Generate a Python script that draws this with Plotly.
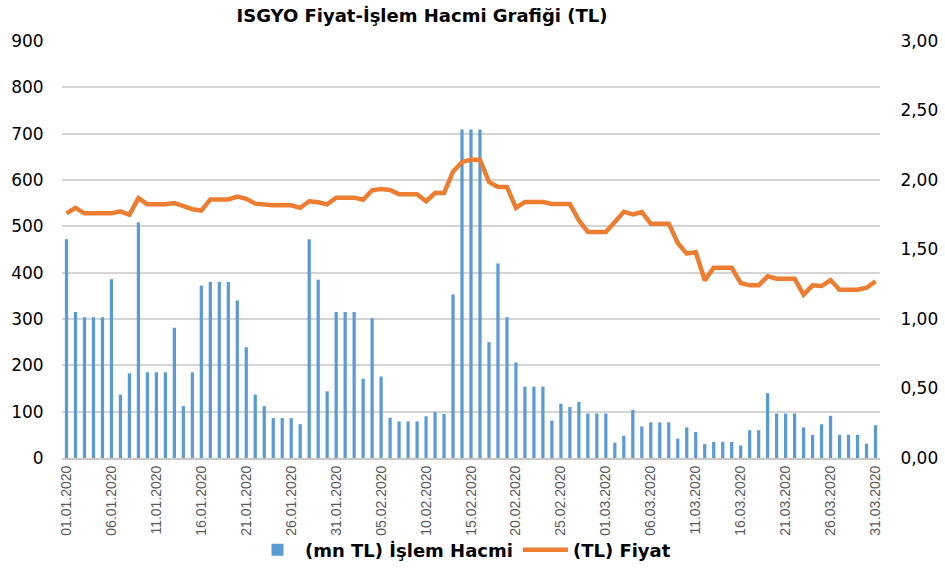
import pandas as pd
import plotly.graph_objects as go

dates = [d.strftime("%d.%m.%Y") for d in pd.date_range("2020-01-01", "2020-03-31", freq="D")]

volume = [472, 315, 304, 304, 304, 386, 137, 183, 509, 185,
          185, 185, 281, 112, 185, 372, 380, 380, 380, 340,
          239, 137, 112, 86, 86, 86, 73, 472, 385, 144,
          315, 315, 315, 171, 302, 176, 87, 79, 79, 79,
          90, 99, 95, 353, 709, 709, 709, 250, 420, 304,
          206, 154, 154, 154, 81, 117, 110, 121, 96, 96,
          96, 33, 48, 104, 68, 77, 77, 77, 42, 66,
          56, 30, 35, 35, 35, 27, 60, 60, 140, 96,
          96, 96, 66, 50, 73, 91, 50, 50, 50, 31,
          71]

price = [1.76, 1.80, 1.76, 1.76, 1.76, 1.76, 1.775, 1.75, 1.87, 1.825,
         1.825, 1.825, 1.835, 1.81, 1.79, 1.78, 1.86, 1.86, 1.86, 1.88,
         1.865, 1.83, 1.822, 1.818, 1.818, 1.818, 1.80, 1.847, 1.84, 1.825,
         1.873, 1.873, 1.873, 1.858, 1.926, 1.935, 1.928, 1.897, 1.897, 1.897,
         1.847, 1.906, 1.906, 2.06, 2.13, 2.146, 2.146, 1.986, 1.95, 1.95,
         1.80, 1.842, 1.842, 1.842, 1.827, 1.827, 1.827, 1.71, 1.626, 1.626,
         1.626, 1.698, 1.772, 1.753, 1.77, 1.686, 1.686, 1.686, 1.547, 1.47,
         1.482, 1.278, 1.369, 1.369, 1.369, 1.259, 1.242, 1.242, 1.307, 1.29,
         1.29, 1.29, 1.175, 1.242, 1.237, 1.28, 1.211, 1.211, 1.211, 1.225,
         1.27]

left_ticks = [0, 100, 200, 300, 400, 500, 600, 700, 800, 900]
right_ticks = [0, 0.5, 1.0, 1.5, 2.0, 2.5, 3.0]
x_tick_labels = dates[::5]

title_text = "ISGYO Fiyat-İşlem Hacmi Grafiği (TL)"
bar_name = "(mn TL) İşlem Hacmi"
line_name = "(TL) Fiyat"

W, H = 945, 568
L, R, T, B = 62, 65, 41, 110
PW, PH = W - L - R, H - T - B

fig = go.Figure()
fig.add_trace(go.Bar(x=dates, y=volume, name=bar_name,
                     marker=dict(color="#5B9BD5", line=dict(width=0)), yaxis="y"))
fig.add_trace(go.Scatter(x=dates, y=price, name=line_name, mode="lines",
                         line=dict(color="#ED7D31", width=4.5), yaxis="y2"))

fig.update_layout(
    width=W, height=H,
    margin=dict(l=L, r=R, t=T, b=B, autoexpand=False),
    paper_bgcolor="white", plot_bgcolor="white",
    separators=",.",
    bargap=0.64,
    font=dict(family="DejaVu Sans, Arial, sans-serif", color="#000000"),
    title=dict(text="<b>" + title_text + "</b>", x=422 / W, xanchor="center",
               y=1 - 16 / H, yanchor="middle",
               font=dict(size=18, family="DejaVu Sans, Arial", color="#000000")),
    xaxis=dict(type="category", tickmode="array", tickvals=x_tick_labels, ticktext=x_tick_labels,
               tickangle=-90, tickfont=dict(size=14, family="Liberation Sans, Arial", color="#595959"),
               showgrid=False, showline=True, linecolor="#c8c8c8", linewidth=2,
               ticks="", range=[-0.5, 90.5], automargin=False),
    yaxis=dict(range=[0, 900], tickvals=left_ticks, showgrid=True,
               gridcolor="#d4d4d4", gridwidth=2, zeroline=False, automargin=False,
               tickfont=dict(size=17, color="#000000"), ticks="outside", ticklen=14,
               tickcolor="white"),
    yaxis2=dict(range=[0, 3], tickvals=right_ticks, tickformat=".2f", overlaying="y",
                side="right", showgrid=False, zeroline=False, automargin=False,
                tickfont=dict(size=17, color="#000000"), ticks="outside", ticklen=16,
                tickcolor="white"),
    legend=dict(orientation="h", x=(250 - L) / PW, xanchor="left",
                y=-(550 - (T + PH)) / PH, yanchor="middle",
                font=dict(size=18, color="#000000", weight="bold"),
                itemwidth=45, traceorder="normal", bgcolor="rgba(0,0,0,0)"),
)

fig.write_html("out.html", config={"displayModeBar": False},
               post_script="document.body.style.margin='0px';")
